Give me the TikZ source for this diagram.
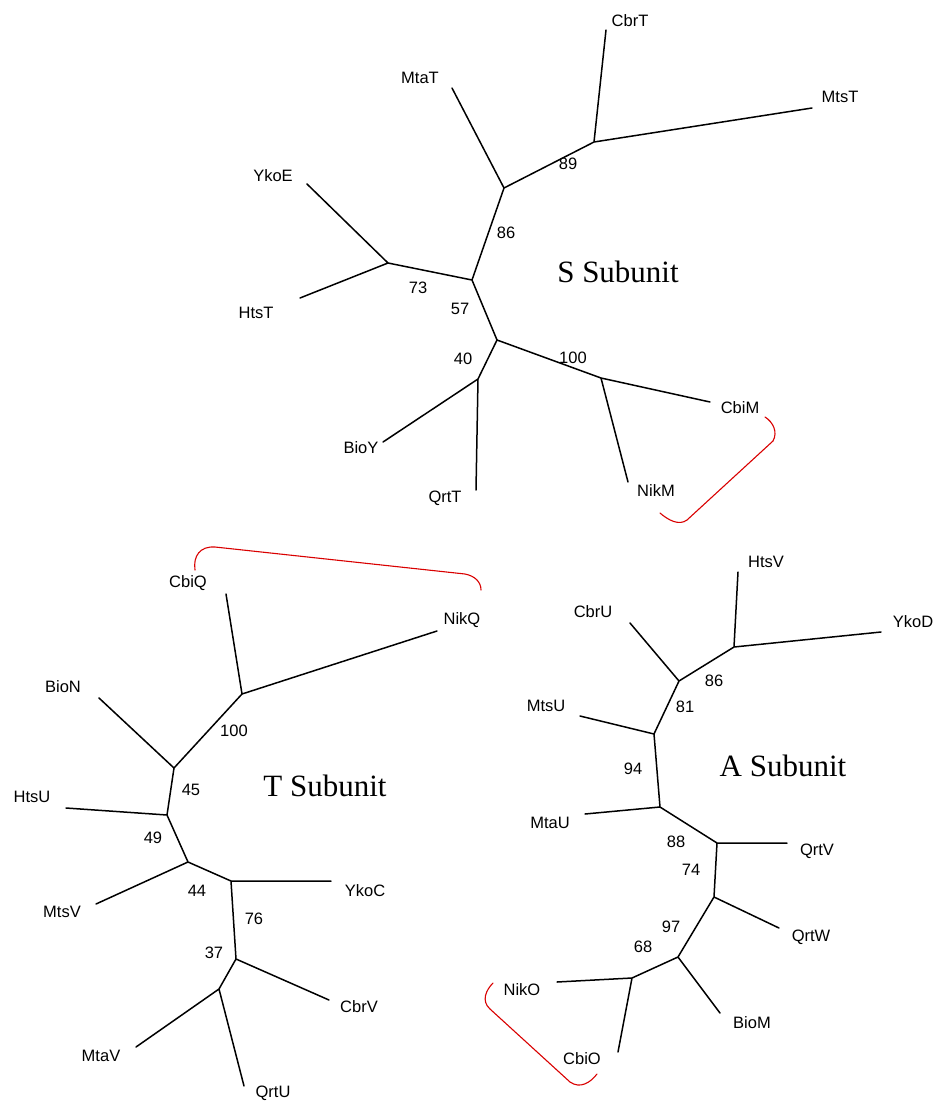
\documentclass[tikz,border=0pt]{standalone}
\usepackage{fontspec}
\setmainfont{Liberation Serif}
\newfontfamily\arialfont{Liberation Sans}
\begin{document}
\begin{tikzpicture}[x=1pt,y=-1pt,
  branch/.style={line width=1.5pt,line cap=round,line join=round,black},
  leaf/.style={font=\arialfont\fontsize{16.5}{18}\selectfont,inner sep=0pt},
  boot/.style={font=\arialfont\fontsize{16.5}{18}\selectfont,inner sep=0pt},
  title/.style={font=\fontsize{31}{34}\selectfont,inner sep=0pt},
  bracket/.style={line width=1.1pt,red!85!black,line cap=round}]
\useasboundingbox (0,0) rectangle (938,1101);
% ---------------- S subunit ----------------
\coordinate (s57) at (472,280);
\coordinate (s86) at (504,188);
\coordinate (s89) at (594,142);
\coordinate (s73) at (388,263);
\coordinate (sc) at (497,340);
\coordinate (s40) at (478,379);
\coordinate (s100) at (601,378);
\coordinate (eMtaT) at (452,88);
\coordinate (eCbrT) at (606,30);
\coordinate (eMtsT) at (812,108);
\coordinate (eYkoE) at (307,184);
\coordinate (eHtsT) at (300,298);
\coordinate (eBioY) at (383,442);
\coordinate (eQrtT) at (476,490);
\coordinate (eCbiM) at (710,402);
\coordinate (eNikM) at (628,482);
\draw[branch] (s57)--(s86) (s86)--(eMtaT) (s86)--(s89) (s89)--(eCbrT) (s89)--(eMtsT)
  (s57)--(s73) (s73)--(eYkoE) (s73)--(eHtsT) (s57)--(sc) (sc)--(s40)
  (s40)--(eBioY) (s40)--(eQrtT) (sc)--(s100) (s100)--(eCbiM) (s100)--(eNikM);
\node[leaf] (lCbrT) at (630,21) {CbrT};
\node[leaf] (lMtsT) at (840,97) {MtsT};
\node[leaf] (lMtaT) at (420,78) {MtaT};
\node[leaf] (lYkoE) at (273,176) {YkoE};
\node[leaf] (lHtsT) at (256,313) {HtsT};
\node[leaf] (lBioY) at (361,448) {BioY};
\node[leaf] (lQrtT) at (445,498) {QrtT};
\node[leaf] (lCbiM) at (740,408) {CbiM};
\node[leaf] (lNikM) at (656,491) {NikM};
\node[boot] (b89) at (568,164) {89};
\node[boot] (b86) at (506,233) {86};
\node[boot] (b73) at (418,288) {73};
\node[boot] (b57) at (460,309) {57};
\node[boot] (b40) at (463,359) {40};
\node[boot] (b100s) at (573,358) {100};
\node[title] (tS) at (618,272) {S Subunit};
\draw[bracket] (765,417) .. controls (773,422) and (778,432) .. (773,441) -- (687,520) .. controls (679,526) and (668,520) .. (660,513);
% ---------------- T subunit ----------------
\coordinate (tr) at (242,694);
\coordinate (t45) at (174,768);
\coordinate (t49) at (167,815);
\coordinate (t44) at (188,862);
\coordinate (t76) at (231,881);
\coordinate (t37) at (236,959);
\coordinate (tMQ) at (219,989);
\coordinate (eCbiQ) at (226,594);
\coordinate (eNikQ) at (437,631);
\coordinate (eBioN) at (99,698);
\coordinate (eHtsU) at (66,808);
\coordinate (eMtsV) at (96,904);
\coordinate (eYkoC) at (331,881);
\coordinate (eCbrV) at (329,1000);
\coordinate (eMtaV) at (136,1047);
\coordinate (eQrtU) at (244,1086);
\draw[branch] (tr)--(eCbiQ) (tr)--(eNikQ) (tr)--(t45) (t45)--(eBioN) (t45)--(t49)
  (t49)--(eHtsU) (t49)--(t44) (t44)--(eMtsV) (t44)--(t76) (t76)--(eYkoC)
  (t76)--(t37) (t37)--(eCbrV) (t37)--(tMQ) (tMQ)--(eMtaV) (tMQ)--(eQrtU);
\node[leaf] (lCbiQ) at (188,583) {CbiQ};
\node[leaf] (lNikQ) at (462,620) {NikQ};
\node[leaf] (lBioN) at (63,687) {BioN};
\node[leaf] (lHtsU) at (32,797) {HtsU};
\node[leaf] (lMtsV) at (62,912) {MtsV};
\node[leaf] (lYkoC) at (365,891) {YkoC};
\node[leaf] (lCbrV) at (359,1007) {CbrV};
\node[leaf] (lMtaV) at (101,1056) {MtaV};
\node[leaf] (lQrtU) at (273,1093) {QrtU};
\node[boot] (b100t) at (234,731) {100};
\node[boot] (b45) at (191,790) {45};
\node[boot] (b49) at (153,838) {49};
\node[boot] (b44) at (197,891) {44};
\node[boot] (b76) at (254,919) {76};
\node[boot] (b37) at (214,953) {37};
\node[title] (tT) at (325,786) {T Subunit};
\draw[bracket] (195,570) .. controls (193,556) and (200,546) .. (215,547) -- (465,574) .. controls (475,576) and (481,582) .. (481,590);
% ---------------- A subunit ----------------
\coordinate (aHY) at (734,647);
\coordinate (a81) at (679,681);
\coordinate (a94) at (654,734);
\coordinate (a88) at (660,807);
\coordinate (a74) at (717,843);
\coordinate (a97) at (714,897);
\coordinate (a68) at (678,957);
\coordinate (aNC) at (632,978);
\coordinate (eHtsV) at (738,572);
\coordinate (eYkoD) at (881,632);
\coordinate (eCbrU) at (630,623);
\coordinate (eMtsU) at (580,716);
\coordinate (eMtaU) at (585,814);
\coordinate (eQrtV) at (787,843);
\coordinate (eQrtW) at (779,928);
\coordinate (eBioM) at (720,1013);
\coordinate (eNikO) at (557,982);
\coordinate (eCbiO) at (618,1052);
\draw[branch] (aHY)--(eHtsV) (aHY)--(eYkoD) (aHY)--(a81) (a81)--(eCbrU) (a81)--(a94)
  (a94)--(eMtsU) (a94)--(a88) (a88)--(eMtaU) (a88)--(a74) (a74)--(eQrtV)
  (a74)--(a97) (a97)--(eQrtW) (a97)--(a68) (a68)--(eBioM) (a68)--(aNC)
  (aNC)--(eNikO) (aNC)--(eCbiO);
\node[leaf] (lHtsV) at (766,562) {HtsV};
\node[leaf] (lYkoD) at (913,622) {YkoD};
\node[leaf] (lCbrU) at (593,612) {CbrU};
\node[leaf] (lMtsU) at (546,706) {MtsU};
\node[leaf] (lMtaU) at (550,823) {MtaU};
\node[leaf] (lQrtV) at (817,851) {QrtV};
\node[leaf] (lQrtW) at (811,937) {QrtW};
\node[leaf] (lBioM) at (752,1023) {BioM};
\node[leaf] (lNikO) at (522,990) {NikO};
\node[leaf] (lCbiO) at (582,1059) {CbiO};
\node[boot] (b86a) at (714,681) {86};
\node[boot] (b81) at (685,707) {81};
\node[boot] (b94) at (633,769) {94};
\node[boot] (b88) at (676,842) {88};
\node[boot] (b74) at (691,870) {74};
\node[boot] (b97) at (671,927) {97};
\node[boot] (b68) at (643,947) {68};
\node[title] (tA) at (783,766) {A Subunit};
\draw[bracket] (493,983) .. controls (486,990) and (481,1001) .. (490,1009) -- (570,1082) .. controls (580,1089) and (590,1083) .. (597,1074);
\end{tikzpicture}
\end{document}
